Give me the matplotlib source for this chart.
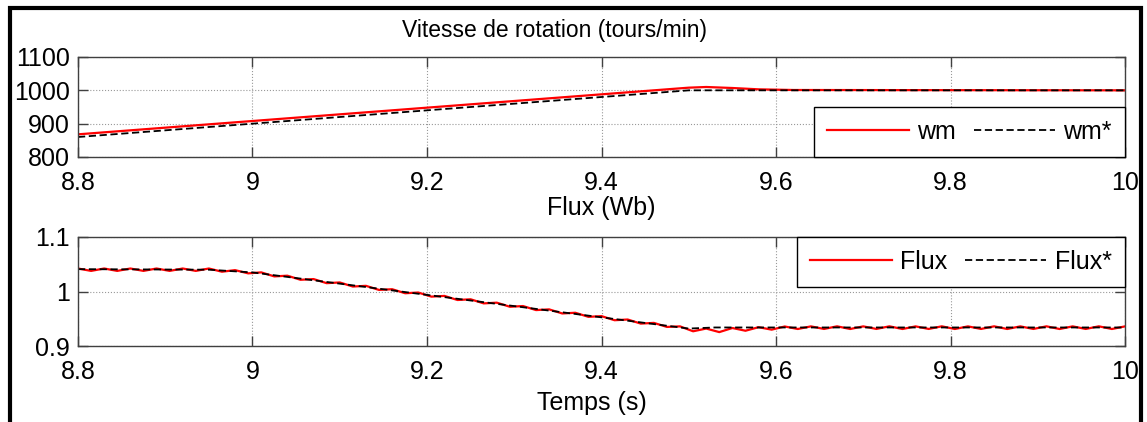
import numpy as np
import matplotlib.pyplot as plt
from matplotlib.patches import Rectangle

plt.rcParams["font.family"] = ["Liberation Sans", "DejaVu Sans"]
plt.rcParams["font.size"] = 18

# speed (tours/min)
wm_ref_t = [8.8, 9.5, 10.0]
wm_ref = [860, 1000, 1000]
wm_t = [8.8, 9.48, 9.50, 9.52, 9.55, 9.58, 9.62, 10.0]
wm = [868, 1004, 1008, 1010, 1007, 1003, 1001, 1000]

# flux (Wb)
flux_ref_t = [8.8, 8.95, 9.0, 9.5, 9.53, 10.0]
flux_ref = [1.041, 1.040, 1.035, 0.932, 0.934, 0.934]
flux_t = np.arange(81) * 0.015 + 8.8
flux = [
    1.0422, 1.0378, 1.0422, 1.0378, 1.0422, 1.0378, 1.0422, 1.0378, 1.0422, 1.0378,
    1.0422, 1.0363, 1.0392, 1.0333, 1.0351, 1.0277, 1.0290, 1.0215, 1.0228, 1.0153,
    1.0166, 1.0091, 1.0104, 1.0029, 1.0042, 0.9968, 0.9981, 0.9906, 0.9919, 0.9844,
    0.9857, 0.9782, 0.9795, 0.9720, 0.9733, 0.9659, 0.9672, 0.9597, 0.9610, 0.9535,
    0.9548, 0.9473, 0.9486, 0.9411, 0.9424, 0.9350, 0.9360, 0.9270, 0.9320, 0.9255,
    0.9330, 0.9280, 0.9345, 0.9300, 0.9358, 0.9312, 0.9360, 0.9313, 0.9361, 0.9312,
    0.9360, 0.9313, 0.9361, 0.9312, 0.9360, 0.9313, 0.9361, 0.9312, 0.9360, 0.9313,
    0.9361, 0.9312, 0.9360, 0.9313, 0.9361, 0.9312, 0.9360, 0.9313, 0.9361, 0.9312,
    0.9360,
]

xticks = [8.8, 9, 9.2, 9.4, 9.6, 9.8, 10]
xticklabels = ["8.8", "9", "9.2", "9.4", "9.6", "9.8", "10"]

W, H = 1147, 422
fig = plt.figure(figsize=(W / 100, H / 100), dpi=100)


def px_axes(x0, y0, x1, y1):
    return fig.add_axes([x0 / W, 1 - y1 / H, (x1 - x0) / W, (y1 - y0) / H])


def style(ax):
    for s in ax.spines.values():
        s.set_color("#404040")
        s.set_linewidth(1.0)
    ax.tick_params(direction="in", length=7.5, width=1.0, color="#404040",
                   top=True, right=True)
    ax.tick_params(axis="x", pad=10)
    ax.tick_params(axis="y", pad=6)
    ax.grid(True, linestyle=":", color="#999999", linewidth=0.8)
    ax.set_xlim(8.8, 10)
    ax.set_xticks(xticks)
    ax.set_xticklabels(xticklabels)


def legend(ax, loc):
    leg = ax.legend(loc=loc, ncol=2, borderaxespad=0, handlelength=3.25,
                    fancybox=False, framealpha=1, edgecolor="black",
                    columnspacing=0.7, handletextpad=0.35, borderpad=0.52)
    leg.get_frame().set_linewidth(1.0)
    return leg


ax1 = px_axes(78, 57, 1125, 157)
ax1.plot(wm_t, wm, color="red", lw=1.6, label="wm")
ax1.plot(wm_ref_t, wm_ref, color="black", lw=1.3, ls="--", dashes=(4, 2), label="wm*")
style(ax1)
ax1.set_ylim(800, 1100)
ax1.set_yticks([800, 900, 1000, 1100])
legend(ax1, "lower right")

ax2 = px_axes(78, 237, 1125, 346)
ax2.plot(flux_t, flux, color="red", lw=1.6, label="Flux")
ax2.plot(flux_ref_t, flux_ref, color="black", lw=1.3, ls="--", dashes=(4, 2), label="Flux*")
style(ax2)
ax2.set_ylim(0.9, 1.1)
ax2.set_yticks([0.9, 1.0, 1.1])
ax2.set_yticklabels(["0.9", "1", "1.1"])
legend(ax2, "upper right")

fig.text(554 / W, 1 - 30 / H, "Vitesse de rotation (tours/min)", ha="center", va="center",
         fontsize=16.5)
fig.text(601 / W, 1 - 208 / H, "Flux (Wb)", ha="center", va="center")
fig.text(592 / W, 1 - 403 / H, "Temps (s)", ha="center", va="center")

fig.patches.append(Rectangle((10 / W, -0.05), (1141 - 10) / W, 1.05 - 8 / H,
                             transform=fig.transFigure, fill=False,
                             edgecolor="black", linewidth=3, clip_on=False))

fig.savefig("out.png", dpi=100)
